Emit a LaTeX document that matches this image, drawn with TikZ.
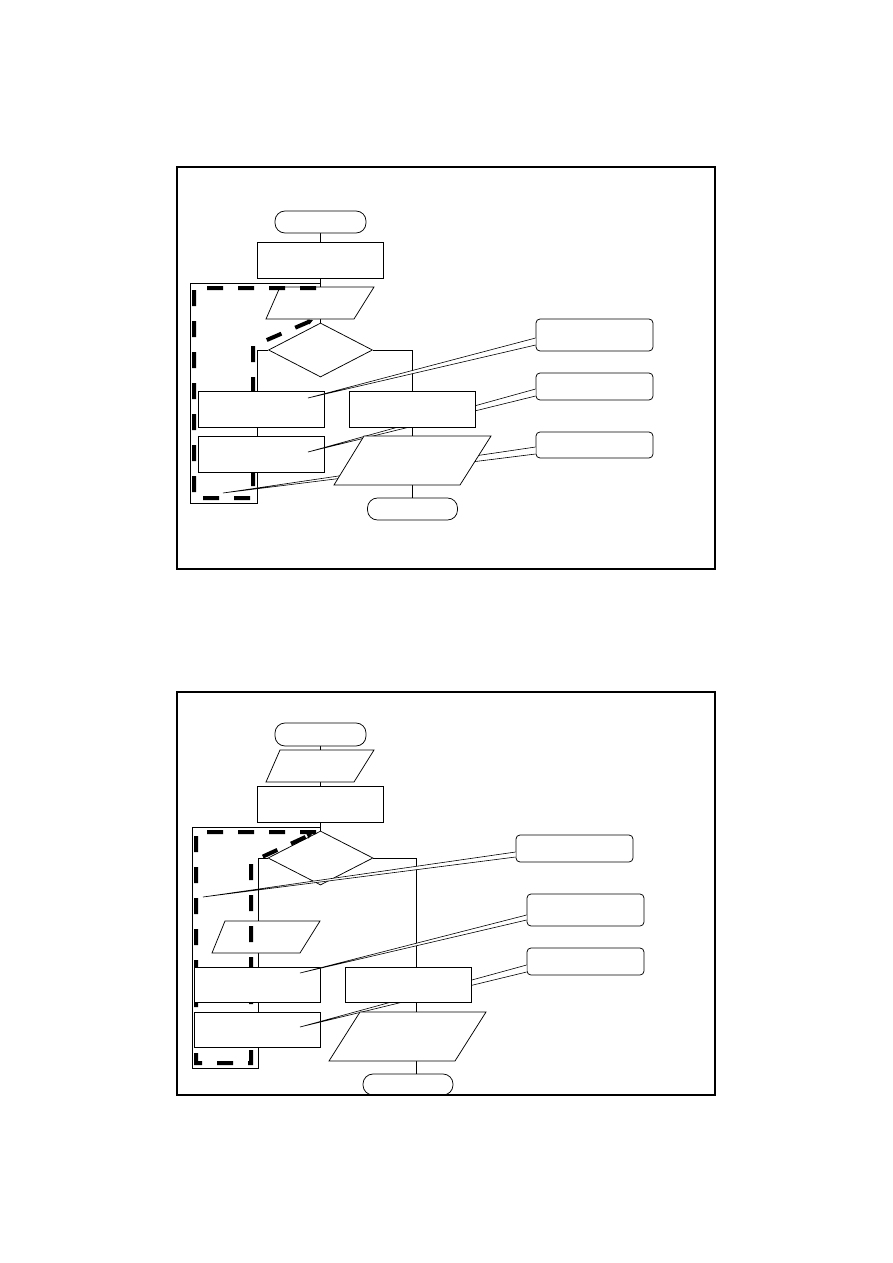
\documentclass[tikz,border=0pt]{standalone}
\usepackage{tikz}
\usetikzlibrary{shapes.geometric,arrows.meta,calc}
\pgfdeclarelayer{background}
\pgfsetlayers{background,main}

\begin{document}
\begin{tikzpicture}[x=1pt, y=-1pt,
    flow/.style={line width=0.75pt},
    term/.style={draw, line width=0.75pt, fill=white, rectangle, rounded corners=10pt, minimum width=91pt, minimum height=22pt, inner sep=0pt},
    proc/.style={draw, line width=0.75pt, fill=white, rectangle, minimum width=126pt, minimum height=36pt, inner sep=0pt},
    iobox/.style={draw, line width=0.75pt, fill=white},
    dec/.style={draw, line width=0.75pt, fill=white, diamond, minimum width=104pt, minimum height=54pt, inner sep=0pt},
    calloutbox/.style={draw, line width=0.75pt, fill=white, rectangle, rounded corners=4pt, minimum width=117pt, inner sep=0pt},
    pointer/.style={draw, line width=0.6pt, fill=white},
    loopmark/.style={line width=4pt, dash pattern=on 16pt off 15pt},
    framebox/.style={draw, line width=1.8pt}]
    \useasboundingbox (0,0) rectangle (893,1263);

    % ---------- upper chart ----------
    \node[term] (start1) at (320.5,222) {};
    \node[proc] (init1) at (320,260) {};
    \draw[iobox] (280,287) -- (374,287) -- (354,319) -- (266,319) -- cycle;
    \node[dec] (test1) at (320.5,350) {};

    % loop marking
    \draw[loopmark, -{Triangle[length=5pt,width=5pt]}] (316,288) -- (194,288) -- (194,498) -- (253,498) -- (253,346) -- (313,320);

    \node[proc] (body1a) at (261.5,409) {};
    \node[proc] (body1b) at (261.5,454) {};

    % callouts
    \coordinate (m1a) at (308,398);
    \coordinate (m1b) at (308,452);
    \coordinate (m1c) at (223,493);
    \node[calloutbox, minimum height=32pt] (tip1a) at (594.5,335) {};
    \node[calloutbox, minimum height=27pt] (tip1b) at (594.5,386.5) {};
    \node[calloutbox, minimum height=26pt] (tip1c) at (594.5,445) {};
    \draw[pointer] ([yshift=-3pt]tip1a.west) -- (m1a) -- ([yshift=-10pt]tip1a.west);
    \draw[pointer] ([yshift=-2.5pt]tip1b.west) -- (m1b) -- ([yshift=-9.5pt]tip1b.west);
    \draw[pointer] ([yshift=-2pt]tip1c.west) -- (m1c) -- ([yshift=-9pt]tip1c.west);

    \node[proc] (alt1) at (412.5,409) {};
    \draw[iobox] (364,436) -- (491,436) -- (460,485) -- (334,485) -- cycle;
    \node[term, minimum width=90pt] (stop1) at (412.5,509) {};

    \coordinate (lj1) at (257,350);
    \coordinate (back1) at (257,503);
    \coordinate (up1) at (190,283);
    \begin{pgfonlayer}{background}
        \draw[flow] (start1.south) -- (test1.north);
        \draw[flow] (test1.west) -- (lj1) -- (back1) -| (up1) -- (init1.south |- up1);
        \draw[flow] (test1.east) -| (alt1.north);
        \draw[flow] (alt1.south) -- (stop1.north);
    \end{pgfonlayer}

    % ---------- lower chart ----------
    \node[term, minimum height=23pt] (start2) at (320.5,734.5) {};
    \draw[iobox] (280,750) -- (374,750) -- (354,782) -- (266,782) -- cycle;
    \node[proc] (init2) at (320,804) {};
    \node[dec, minimum width=105pt] (test2) at (320.5,858) {};
    \draw[iobox] (225,921) -- (320,921) -- (300,953) -- (212,953) -- cycle;

    % loop marking
    \draw[loopmark, -{Triangle[length=5pt,width=5pt]}] (316,832) -- (196,832) -- (196,1063) -- (251,1063) -- (251,862) -- (312,834);

    \node[proc, minimum height=35pt] (body2a) at (257,984.5) {};
    \node[proc, minimum height=35pt] (body2b) at (257,1029.5) {};

    % callouts
    \coordinate (m2a) at (203,897);
    \coordinate (m2b) at (300,973);
    \coordinate (m2c) at (300,1027);
    \node[calloutbox, minimum height=27pt] (tip2a) at (574.5,848.5) {};
    \node[calloutbox, minimum height=32pt] (tip2b) at (585.5,910) {};
    \node[calloutbox, minimum height=27pt] (tip2c) at (585.5,961.5) {};
    \draw[pointer] ([yshift=-3.5pt]tip2a.west) -- (m2a) -- ([yshift=-8.5pt]tip2a.west);
    \draw[pointer] ([yshift=-5pt]tip2b.west) -- (m2b) -- ([yshift=-10pt]tip2b.west);
    \draw[pointer] ([yshift=-3.5pt]tip2c.west) -- (m2c) -- ([yshift=-10.5pt]tip2c.west);

    \node[proc, minimum height=35pt] (alt2) at (408,984.5) {};
    \draw[iobox] (360,1012) -- (486,1012) -- (455,1061) -- (329,1061) -- cycle;
    \node[term, minimum width=90pt, minimum height=21pt] (stop2) at (408,1084.5) {};

    \coordinate (lj2) at (258,858);
    \coordinate (back2) at (258,1068);
    \coordinate (up2) at (192,827);
    \coordinate (rj2) at (416,858);
    \begin{pgfonlayer}{background}
        \draw[flow] (start2.south) -- (test2.north);
        \draw[flow] (test2.west) -- (lj2) -- (back2) -| (up2) -- (init2.south |- up2);
        \draw[flow] (test2.east) -- (rj2) -- (rj2 |- stop2.north);
    \end{pgfonlayer}

    % frames
    \draw[framebox] (177,167) rectangle (715,569);
    \draw[framebox] (177,692) rectangle (715,1095);
\end{tikzpicture}
\end{document}
